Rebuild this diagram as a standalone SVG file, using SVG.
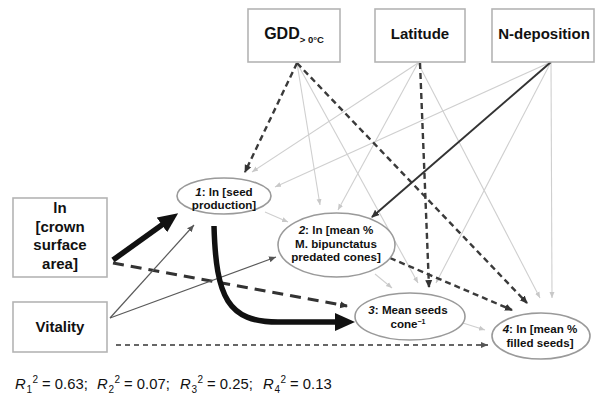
<svg xmlns="http://www.w3.org/2000/svg" width="596" height="398" viewBox="0 0 596 398">
<defs>
<style>
.box{fill:#fff;stroke:#b4b4b4;stroke-width:1.6}
.ell{fill:#fff;stroke:#9a9a9a;stroke-width:1.6}
.lbl{font-family:"Liberation Sans",Arial,sans-serif;font-weight:bold;fill:#111;text-anchor:middle}
.big{font-size:15px}
.sm{font-size:11.6px}
.r2{font-family:"Liberation Sans",Arial,sans-serif;font-size:14.8px;fill:#111}
.light{fill:none;stroke:#cfcfcf;stroke-width:1.1;marker-end:url(#mL)}
.dash{fill:none;stroke:#3a3a3a;stroke-width:2.4;stroke-dasharray:6 4;marker-end:url(#mD)}
.thin{fill:none;stroke:#5a5a5a;stroke-width:1.2;marker-end:url(#mT)}
.thick{fill:none;stroke:#111;stroke-width:5.5;marker-end:url(#mB)}
</style>
<marker id="mL" markerUnits="userSpaceOnUse" viewBox="0 0 6 6" markerWidth="6" markerHeight="6" refX="6" refY="3" orient="auto"><path d="M0,0.5 L6,3 L0,5.5 z" fill="#c8c8c8"/></marker>
<marker id="mD" markerUnits="userSpaceOnUse" viewBox="0 0 8 8" markerWidth="8" markerHeight="8" refX="7" refY="4" orient="auto"><path d="M0,0.5 L8,4 L0,7.5 z" fill="#333"/></marker>
<marker id="mT" markerUnits="userSpaceOnUse" viewBox="0 0 7 7" markerWidth="7" markerHeight="7" refX="7" refY="3.5" orient="auto"><path d="M0,0.5 L7,3.5 L0,6.5 z" fill="#555"/></marker>
<marker id="mB" markerUnits="userSpaceOnUse" viewBox="0 0 20 18" markerWidth="20" markerHeight="18" refX="8" refY="9" orient="auto"><path d="M0,0 L20,9 L0,18 z" fill="#111"/></marker>
</defs>
<rect width="596" height="398" fill="#fff"/>

<g id="connectors">
<path class="light" d="M297,63 L320,205"/>
<path class="light" d="M297,63 L418,283"/>
<path class="light" d="M418,63 L252,172"/>
<path class="light" d="M418,63 L338,210"/>
<path class="light" d="M418,63 L540,298"/>
<path class="light" d="M551,62 L275,187"/>
<path class="light" d="M551,62 L436,283"/>
<path class="light" d="M551,62 L552,298"/>
<path class="light" d="M265,212 L288,222"/>
<path class="light" d="M375,274 L392,288"/>
<path class="light" d="M463,323 L485,330"/>
<path class="dash" d="M297,63 L245,172"/>
<path class="dash" d="M297,63 L527,303"/>
<path class="dash" d="M420,63 L429,287"/>
<path class="dash" d="M390,258 L512,310"/>
<path fill="none" stroke="#333" stroke-width="3.2" stroke-dasharray="11 7" marker-end="url(#mD)" d="M113,263 L347,306"/>
<path fill="none" stroke="#666" stroke-width="2" stroke-dasharray="5 4" marker-end="url(#mT)" d="M116,345 L488,345"/>
<path class="thin" d="M110,318 L194,225"/>
<path class="thin" d="M110,318 L276,257"/>
<path fill="none" stroke="#333" stroke-width="2" marker-end="url(#mD)" d="M551,62 L372,217"/>
<path class="thick" d="M113,260 L168.4,220.2"/>
<path class="thick" d="M214,226 C216,298 228,322 278,322 L343,322"/>
</g>

<g id="gdd">
<rect class="box" x="248" y="9" width="92" height="53"/>
<text class="lbl" x="294" y="39" font-size="16"><tspan>GDD</tspan><tspan font-size="9.5" dy="4">&gt; 0°C</tspan></text>
</g>
<g id="latitude">
<rect class="box" x="375" y="9" width="90" height="53"/>
<text class="lbl big" x="420" y="39">Latitude</text>
</g>
<g id="ndep">
<rect class="box" x="492" y="9" width="102" height="53"/>
<text class="lbl big" x="544" y="39">N-deposition</text>
</g>
<g id="crown">
<rect class="box" x="13" y="198" width="94" height="79"/>
<text class="lbl big" x="60" y="213">ln</text>
<text class="lbl big" x="60" y="231.5">[crown</text>
<text class="lbl big" x="60" y="250">surface</text>
<text class="lbl big" x="60" y="268.5">area]</text>
</g>
<g id="vitality">
<rect class="box" x="13" y="302" width="94" height="50"/>
<text class="lbl big" x="60" y="331.5">Vitality</text>
</g>

<g id="n1">
<ellipse class="ell" cx="224" cy="196" rx="47" ry="18"/>
<text class="lbl sm" x="224" y="196"><tspan font-style="italic">1</tspan>: ln [seed</text>
<text class="lbl sm" x="224" y="209">production]</text>
</g>
<g id="n2">
<ellipse class="ell" cx="336.5" cy="245" rx="58.5" ry="32"/>
<text class="lbl sm" x="336" y="234"><tspan font-style="italic">2</tspan>: ln [mean %</text>
<text class="lbl sm" x="336" y="247.5">M. bipunctatus</text>
<text class="lbl sm" x="336" y="261">predated cones]</text>
</g>
<g id="n3">
<ellipse class="ell" cx="410" cy="316.5" rx="55" ry="23.5"/>
<text class="lbl sm" x="408" y="314"><tspan font-style="italic">3</tspan>: Mean seeds</text>
<text class="lbl sm" x="408" y="327.5">cone<tspan font-size="7" dy="-4">−1</tspan></text>
</g>
<g id="n4">
<ellipse class="ell" cx="541" cy="336" rx="49" ry="23"/>
<text class="lbl sm" x="540" y="333"><tspan font-style="italic">4</tspan>: ln [mean %</text>
<text class="lbl sm" x="540" y="346.5">filled seeds]</text>
</g>

<g id="r2">
<text class="r2" y="388.5"><tspan x="15" font-style="italic">R</tspan><tspan x="26.5" y="393" font-size="10">1</tspan><tspan x="32.5" y="383" font-size="10">2</tspan><tspan x="38" y="388.5"> = 0.63;</tspan><tspan x="97" font-style="italic">R</tspan><tspan x="108.5" y="393" font-size="10">2</tspan><tspan x="114.5" y="383" font-size="10">2</tspan><tspan x="120" y="388.5"> = 0.07;</tspan><tspan x="180" font-style="italic">R</tspan><tspan x="191.5" y="393" font-size="10">3</tspan><tspan x="197.5" y="383" font-size="10">2</tspan><tspan x="203" y="388.5"> = 0.25;</tspan><tspan x="263" font-style="italic">R</tspan><tspan x="274.5" y="393" font-size="10">4</tspan><tspan x="280.5" y="383" font-size="10">2</tspan><tspan x="286" y="388.5"> = 0.13</tspan></text>
</g>
</svg>
